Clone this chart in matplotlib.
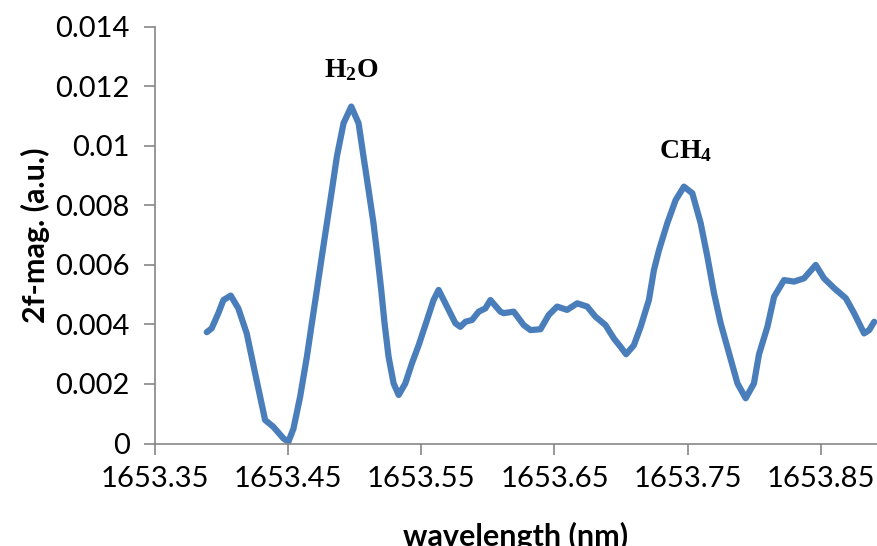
import matplotlib
matplotlib.use('Agg')
import matplotlib.pyplot as plt

# wavelength (nm) and 2f magnitude
wl = [1653.3889, 1653.3926, 1653.3976, 1653.4014, 1653.4069, 1653.4126, 1653.4189,
      1653.4252, 1653.4327, 1653.4389, 1653.4465, 1653.4502, 1653.4540, 1653.4590,
      1653.4641, 1653.4678, 1653.4716, 1653.4753, 1653.4791, 1653.4829, 1653.4866,
      1653.4916, 1653.4974, 1653.5029, 1653.5066, 1653.5104, 1653.5141, 1653.5171,
      1653.5199, 1653.5224, 1653.5254, 1653.5292, 1653.5330, 1653.5380, 1653.5430,
      1653.5480, 1653.5543, 1653.5592, 1653.5630,
      1653.5693, 1653.5756, 1653.5793, 1653.5831, 1653.5881, 1653.5931, 1653.5981,
      1653.6019, 1653.6094, 1653.6119, 1653.6194, 1653.6269, 1653.6320, 1653.6395,
      1653.6457, 1653.6520, 1653.6595, 1653.6671, 1653.6746, 1653.6808, 1653.6883,
      1653.6946, 1653.6996, 1653.7038, 1653.7096, 1653.7147, 1653.7209, 1653.7247,
      1653.7285, 1653.7347, 1653.7410, 1653.7472, 1653.7535, 1653.7598, 1653.7648,
      1653.7698, 1653.7748, 1653.7811, 1653.7874, 1653.7936, 1653.7998, 1653.8036,
      1653.8099, 1653.8149, 1653.8224, 1653.8299, 1653.8374, 1653.8462, 1653.8524,
      1653.8600, 1653.8688, 1653.8750, 1653.8825, 1653.8863, 1653.8901]
mag = [0.00374, 0.00387, 0.00438, 0.00482, 0.00497, 0.00454, 0.00370,
       0.00236, 0.00079, 0.00056, 0.00017, 0.00006, 0.00050, 0.00157,
       0.00292, 0.00404, 0.00516, 0.00628, 0.00740, 0.00852, 0.00964,
       0.01076, 0.01132, 0.01076, 0.00964, 0.00852, 0.00740, 0.00628,
       0.00516, 0.00404, 0.00292, 0.00202, 0.00163, 0.00202, 0.00270,
       0.00330, 0.00415, 0.00482, 0.00516,
       0.00460, 0.00404, 0.00392, 0.00409, 0.00415, 0.00443, 0.00454,
       0.00482, 0.00443, 0.00438, 0.00443, 0.00398, 0.00381, 0.00384,
       0.00432, 0.00460, 0.00449, 0.00471, 0.00460, 0.00426, 0.00398,
       0.00353, 0.00325, 0.00300, 0.00330, 0.00392, 0.00482, 0.00583,
       0.00650, 0.00740, 0.00818, 0.00863, 0.00841, 0.00740, 0.00628,
       0.00505, 0.00404, 0.00303, 0.00202, 0.00152, 0.00202, 0.00300,
       0.00392, 0.00493, 0.00549, 0.00544, 0.00555, 0.00600, 0.00555,
       0.00522, 0.00488, 0.00438, 0.00370, 0.00381, 0.00409]

xticks = [1653.35, 1653.45, 1653.55, 1653.65, 1653.75, 1653.85]
yticks = [0, 0.002, 0.004, 0.006, 0.008, 0.01, 0.012, 0.014]
ytick_labels = ['0', '0.002', '0.004', '0.006', '0.008', '0.01', '0.012', '0.014']

plt.rcParams['font.family'] = ['Lato', 'DejaVu Sans']
plt.rcParams['mathtext.fontset'] = 'custom'
plt.rcParams['mathtext.rm'] = 'Liberation Serif'
plt.rcParams['mathtext.bf'] = 'Liberation Serif:bold'

fig = plt.figure(figsize=(8.77, 5.46), dpi=100)
ax = fig.add_axes([0.1767, 0.1877, 0.823, 0.7632])

ax.plot(wl, mag, color='#4a7ebb', lw=4.5, solid_capstyle='round', solid_joinstyle='round')

ax.set_xlim(1653.35, 1653.892)
ax.set_ylim(0, 0.014)
ax.set_xticks(xticks)
ax.set_xticklabels(['%.2f' % t for t in xticks])
ax.set_yticks(yticks)
ax.set_yticklabels(ytick_labels)

for s in ['top', 'right']:
    ax.spines[s].set_visible(False)
for s in ['left', 'bottom']:
    ax.spines[s].set_color('#868686')
    ax.spines[s].set_linewidth(1.2)
ax.tick_params(axis='both', color='#868686', length=8, width=1.2, labelsize=21)
ax.tick_params(axis='y', pad=10)
ax.tick_params(axis='x', pad=8)

ax.set_ylabel('2f-mag. (a.u.)', fontsize=22, fontweight='bold', labelpad=4)
ax.set_xlabel('wavelength (nm)', fontsize=22, fontweight='bold', labelpad=22)

ax.text(1653.4974, 0.0121, r'$\mathbf{H_2O}$', fontsize=20, ha='center', va='bottom')
ax.text(1653.7485, 0.0094, r'$\mathbf{CH_4}$', fontsize=20, ha='center', va='bottom')

fig.savefig('out.png', dpi=100)
